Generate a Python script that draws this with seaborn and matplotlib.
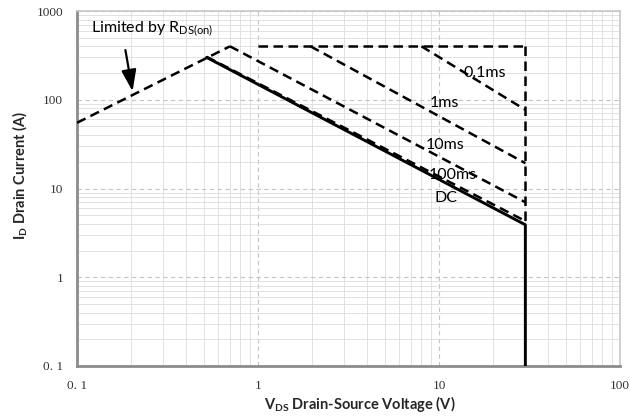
import matplotlib
matplotlib.use("Agg")
import matplotlib.pyplot as plt
import seaborn as sns
import pandas as pd
from matplotlib.ticker import FixedLocator, LogLocator, NullFormatter

# ---- data ----
rds_v = [0.1, 0.7]
rds_i = [55, 400]
top_v = [1, 30]
top_i = [400, 400]
edge_v = [30, 30]
edge_i = [400, 4.0]
p01ms_v = [8.0, 30]
p01ms_i = [400, 77]
p1ms_v = [1.95, 30]
p1ms_i = [400, 19.3]
p10ms_v = [0.7, 30]
p10ms_i = [400, 7.0]
p100ms_v = [0.52, 30]
p100ms_i = [305, 4.3]
dc_v = [0.52, 30, 30]
dc_i = [300, 3.9, 0.1]

labels = ["0.1ms", "1ms", "10ms", "100ms", "DC"]
label_v = [18.0, 10.7, 10.8, 11.9, 10.9]
label_i = [200, 91, 31, 14.1, 7.8]

x_ticks = [0.1, 1, 10, 100]
x_ticklabels = ["0. 1", "1", "10", "100"]
y_ticks = [0.1, 1, 10, 100, 1000]
y_ticklabels = ["0. 1", "1", "10", "100", "1000"]

# ---- style ----
sns.set_style("white")
plt.rcParams["font.family"] = ["Lato", "DejaVu Sans"]
plt.rcParams["mathtext.fontset"] = "custom"
plt.rcParams["mathtext.rm"] = "Lato"
plt.rcParams["mathtext.bf"] = "Lato:bold"

fig = plt.figure(figsize=(6.30, 4.17), dpi=100)
ax = fig.add_axes([77/630, 1-366/417, (620-77)/630, (366-11)/417])
ax.set_xscale("log")
ax.set_yscale("log")

dash = (0, (3.8, 2.2))
lw_d = 1.8

dashed_series = [
    (rds_v, rds_i), (top_v, top_i), (edge_v, edge_i),
    (p01ms_v, p01ms_i), (p1ms_v, p1ms_i), (p10ms_v, p10ms_i),
    (p100ms_v, p100ms_i),
]
for vv, ii in dashed_series:
    df = pd.DataFrame({"V": vv, "I": ii})
    sns.lineplot(data=df, x="V", y="I", ax=ax, color="black", lw=lw_d,
                 linestyle=dash, sort=False, estimator=None, zorder=3)

df_dc = pd.DataFrame({"V": dc_v, "I": dc_i})
sns.lineplot(data=df_dc, x="V", y="I", ax=ax, color="black", lw=2.1,
             sort=False, estimator=None, zorder=4)

ax.set_xlim(0.1, 100)
ax.set_ylim(0.1, 1000)
ax.set_xlabel("")
ax.set_ylabel("")

# grid
ax.xaxis.set_major_locator(FixedLocator(x_ticks))
ax.yaxis.set_major_locator(FixedLocator(y_ticks))
ax.xaxis.set_minor_locator(LogLocator(base=10, subs=range(2, 10), numticks=20))
ax.yaxis.set_minor_locator(LogLocator(base=10, subs=range(2, 10), numticks=20))
ax.xaxis.set_minor_formatter(NullFormatter())
ax.yaxis.set_minor_formatter(NullFormatter())
ax.grid(True, which="minor", color="#dcdcdc", lw=0.6, ls="-", zorder=0)
ax.grid(True, which="major", color="#c4c4c4", lw=0.8, ls=(0, (4, 3)), zorder=0)
ax.set_axisbelow(True)

ax.set_xticklabels(x_ticklabels, family=["Liberation Serif", "DejaVu Serif"], fontsize=9.5, color="#333333")
ax.set_yticklabels(y_ticklabels, family=["Liberation Serif", "DejaVu Serif"], fontsize=9.5, color="#333333")
ax.tick_params(which="both", length=0, pad=10)

for side in ["left", "bottom"]:
    ax.spines[side].set_color("#8c8c8c")
    ax.spines[side].set_linewidth(2.0)
for side in ["top", "right"]:
    ax.spines[side].set_color("#c8c8c8")
    ax.spines[side].set_linewidth(1.2)

fig.text(360/630, 1-404/417, r"$\mathbf{V}_{\mathbf{DS}}$ Drain-Source Voltage (V)",
         fontsize=10.5, fontweight="bold", ha="center", va="center")
fig.text(20/630, 1-175/417, r"$\mathbf{I}_{\mathbf{D}}$ Drain Current (A)",
         fontsize=10.5, fontweight="bold", ha="center", va="center", rotation=90)

for t, v, i in zip(labels, label_v, label_i):
    ax.text(v, i, t, ha="center", va="center", fontsize=11.5, color="black", zorder=5)

ax.text(0.119, 611, r"Limited by R$_{\mathrm{DS(on)}}$", ha="left", va="center",
        fontsize=11.5, color="black", zorder=5)
ax.annotate("", xy=(0.204, 116), xytext=(0.184, 390),
            arrowprops=dict(arrowstyle="-|>,head_width=0.45,head_length=1.3",
                            color="black", lw=1.6), zorder=5)

fig.savefig("out.png", dpi=100)
